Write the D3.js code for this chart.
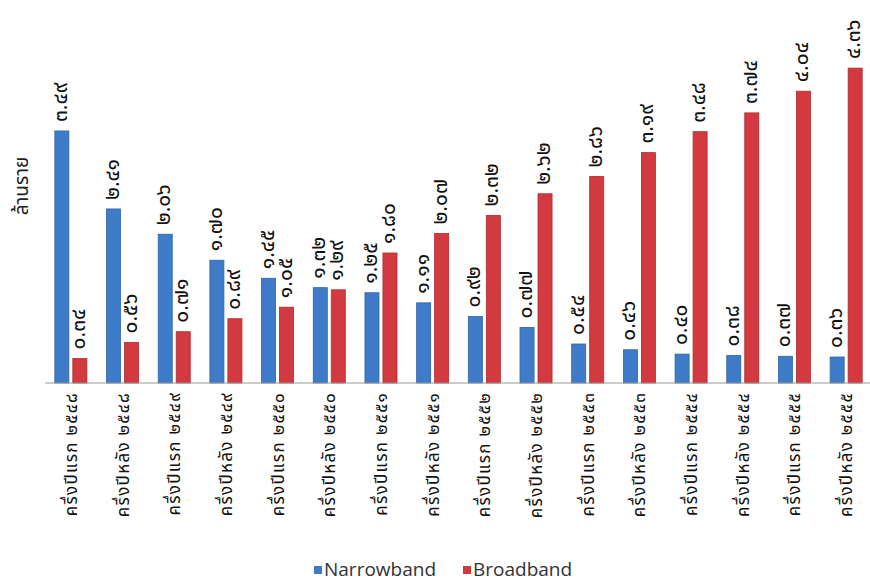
<!DOCTYPE html>
<html>
<head>
<meta charset="utf-8">
<script src="https://cdn.jsdelivr.net/npm/d3@7"></script>
<style>
  html, body { margin: 0; padding: 0; background: #ffffff; }
  svg { display: block; font-family: "Noto Sans Thai", "Noto Sans", "DejaVu Sans", sans-serif; }
</style>
</head>
<body>
<svg id="chart" width="870" height="584"></svg>
<script>
const categories = [
  "ครึ่งปีแรก ๒๕๔๘", "ครึ่งปีหลัง ๒๕๔๘", "ครึ่งปีแรก ๒๕๔๙", "ครึ่งปีหลัง ๒๕๔๙",
  "ครึ่งปีแรก ๒๕๕๐", "ครึ่งปีหลัง ๒๕๕๐", "ครึ่งปีแรก ๒๕๕๑", "ครึ่งปีหลัง ๒๕๕๑",
  "ครึ่งปีแรก ๒๕๕๒", "ครึ่งปีหลัง ๒๕๕๒", "ครึ่งปีแรก ๒๕๕๓", "ครึ่งปีหลัง ๒๕๕๓",
  "ครึ่งปีแรก ๒๕๕๔", "ครึ่งปีหลัง ๒๕๕๔", "ครึ่งปีแรก ๒๕๕๕", "ครึ่งปีหลัง ๒๕๕๕"
];
const seriesNames = ["Narrowband", "Broadband"];
const narrowband = [3.49, 2.41, 2.06, 1.70, 1.45, 1.32, 1.25, 1.11, 0.92, 0.77, 0.54, 0.46, 0.40, 0.38, 0.37, 0.36];
const broadband  = [0.34, 0.56, 0.71, 0.89, 1.05, 1.29, 1.80, 2.07, 2.32, 2.62, 2.86, 3.19, 3.48, 3.74, 4.04, 4.36];
const yTitle = "ล้านราย";
const colors = ["#3e7cc9", "#d33a40"];
const strokes = ["#2f65a8", "#b02a30"];

const thaiDigits = "๐๑๒๓๔๕๖๗๘๙";
const toThai = s => s.replace(/[0-9]/g, d => thaiDigits[+d]);
const fmt = v => toThai(v.toFixed(2));

const svg = d3.select("#chart");
const baseY = 383;
const x0 = d3.scaleBand().domain(categories).range([45, 872]).paddingInner(0.38).paddingOuter(0.19);
const x1 = d3.scaleBand().domain(seriesNames).range([0, x0.bandwidth()]).paddingInner(0.22);
const y = d3.scaleLinear().domain([0, 4.5]).range([baseY, 58]);
const color = d3.scaleOrdinal().domain(seriesNames).range(colors);
const strokeC = d3.scaleOrdinal().domain(seriesNames).range(strokes);

const rows = categories.map((c, i) => ({ cat: c, vals: [
  { s: seriesNames[0], v: narrowband[i] },
  { s: seriesNames[1], v: broadband[i] }
]}));

const groups = svg.append("g").selectAll("g").data(rows).join("g")
  .attr("transform", d => `translate(${x0(d.cat)},0)`);

groups.selectAll("rect").data(d => d.vals).join("rect")
  .attr("x", d => x1(d.s))
  .attr("y", d => y(d.v))
  .attr("width", x1.bandwidth())
  .attr("height", d => baseY - y(d.v))
  .attr("fill", d => color(d.s))
  .attr("stroke", d => strokeC(d.s))
  .attr("stroke-width", 0.8);

groups.selectAll("text.val").data(d => d.vals).join("text")
  .attr("class", "val")
  .attr("transform", d => `translate(${x1(d.s) + x1.bandwidth() / 2 + 5},${y(d.v) - 9}) rotate(-90)`)
  .attr("text-anchor", "start")
  .attr("font-size", 21)
  .attr("fill", "#111")
  .text(d => fmt(d.v));

// x axis
const xAxis = d3.axisBottom(x0).tickSize(0).tickPadding(0);
const ax = svg.append("g").attr("transform", `translate(0,${baseY})`).call(xAxis);
ax.select(".domain").attr("stroke", "#9a9a9a").attr("stroke-width", 1.2)
  .attr("d", "M45,0H870");
ax.selectAll(".tick text")
  .attr("transform", "translate(6,9) rotate(-90)")
  .attr("text-anchor", "end")
  .attr("dy", 0)
  .attr("x", 0).attr("y", 0)
  .attr("font-size", 17)
  .attr("letter-spacing", 1.3)
  .attr("font-family", "\"Noto Sans Thai\", \"Noto Sans\", sans-serif")
  .attr("fill", "#111");

// y title
svg.append("text")
  .attr("transform", "translate(28,186) rotate(-90)")
  .attr("text-anchor", "middle")
  .attr("font-size", 19)
  .attr("fill", "#222")
  .text(yTitle);

// legend
const legendX = [314, 463];
const lg = svg.append("g").selectAll("g").data(seriesNames).join("g")
  .attr("transform", (d, i) => `translate(${legendX[i]},576)`);
lg.append("rect").attr("x", 0).attr("y", -10).attr("width", 8).attr("height", 8)
  .attr("fill", d => color(d));
lg.append("text").attr("x", 10).attr("y", 0).attr("font-size", 19)
  .attr("font-family", "\"Open Sans\", sans-serif").attr("fill", "#333")
  .text(d => d);
</script>
</body>
</html>
